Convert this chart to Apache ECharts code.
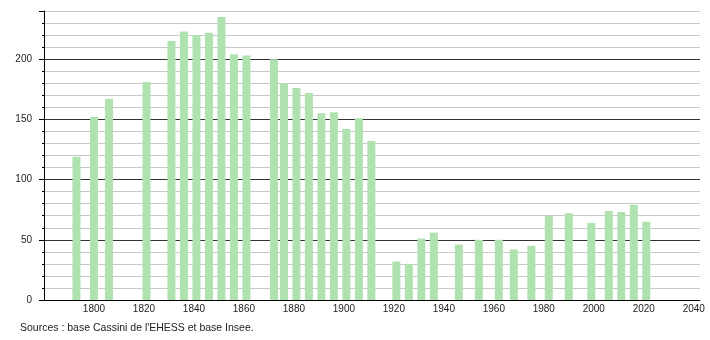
<!DOCTYPE html>
<html>
<head>
<meta charset="utf-8">
<script src="https://cdn.jsdelivr.net/npm/echarts@6/dist/echarts.min.js"></script>
<style>
html,body{margin:0;padding:0;background:#fff;}
#c{width:710px;height:340px;}
</style>
</head>
<body>
<div id="c"></div>
<script>
const years = [1793,1800,1806,1821,1831,1836,1841,1846,1851,1856,1861,1872,1876,1881,1886,1891,1896,1901,1906,1911,1921,1926,1931,1936,1946,1954,1962,1968,1975,1982,1990,1999,2006,2011,2016,2021];
const population = [119,152,167,181,215,223,220,222,235,204,203,200,180,176,172,155,156,142,151,132,32,30,51,56,46,50,50,42,45,70,72,64,74,73,79,65];
const xTickLabels = [1800,1820,1840,1860,1880,1900,1920,1940,1960,1980,2000,2020,2040];
const yTickLabels = [0,50,100,150,200];
const sourceText = "Sources : base Cassini de l'EHESS et base Insee.";

const font = '"Liberation Sans", Arial, sans-serif';
const chart = echarts.init(document.getElementById('c'), null, {renderer:'canvas'});
chart.setOption({
  animation:false,
  backgroundColor:'#fff',
  grid:{left:44,right:10,top:11,bottom:40,containLabel:false},
  xAxis:{
    type:'value', min:1780, max:2042.5, interval:20,
    axisLine:{show:true,onZero:false,lineStyle:{color:'#000',width:1}},
    axisTick:{show:false},
    splitLine:{show:false},
    axisLabel:{
      show:true, color:'#222', fontFamily:font, fontSize:10, margin:4,
      showMinLabel:true, showMaxLabel:true,
      formatter:function(v){ return xTickLabels.indexOf(v) >= 0 ? String(v) : ''; }
    }
  },
  yAxis:[{
    type:'value', min:0, max:240, interval:10, position:'left',
    axisLine:{show:true,lineStyle:{color:'#000',width:1}},
    axisTick:{show:true,length:2,lineStyle:{color:'#000'}},
    axisLabel:{show:false},
    splitLine:{show:true,lineStyle:{color:'#c8c8c8',width:1}}
  },{
    type:'value', min:0, max:240, interval:50, position:'left',
    axisLine:{show:false},
    axisTick:{show:true,length:5,lineStyle:{color:'#000'}},
    axisLabel:{
      show:true, color:'#222', fontFamily:font, fontSize:10, margin:12,
      formatter:function(v){ return yTickLabels.indexOf(v) >= 0 ? String(v) : ''; }
    },
    splitLine:{show:true,showMinLine:false,showMaxLine:false,lineStyle:{color:'#333',width:1}}
  }],
  series:[{
    type:'bar',
    yAxisIndex:0,
    barWidth:8,
    itemStyle:{color:'#b0e2b0'},
    data: years.map((y,i)=>[y,population[i]])
  }],
  graphic:[{
    type:'text', left:20, top:323,
    style:{text:sourceText, font:'10.5px '+font, fill:'#222'}
  }]
});
</script>
</body>
</html>
